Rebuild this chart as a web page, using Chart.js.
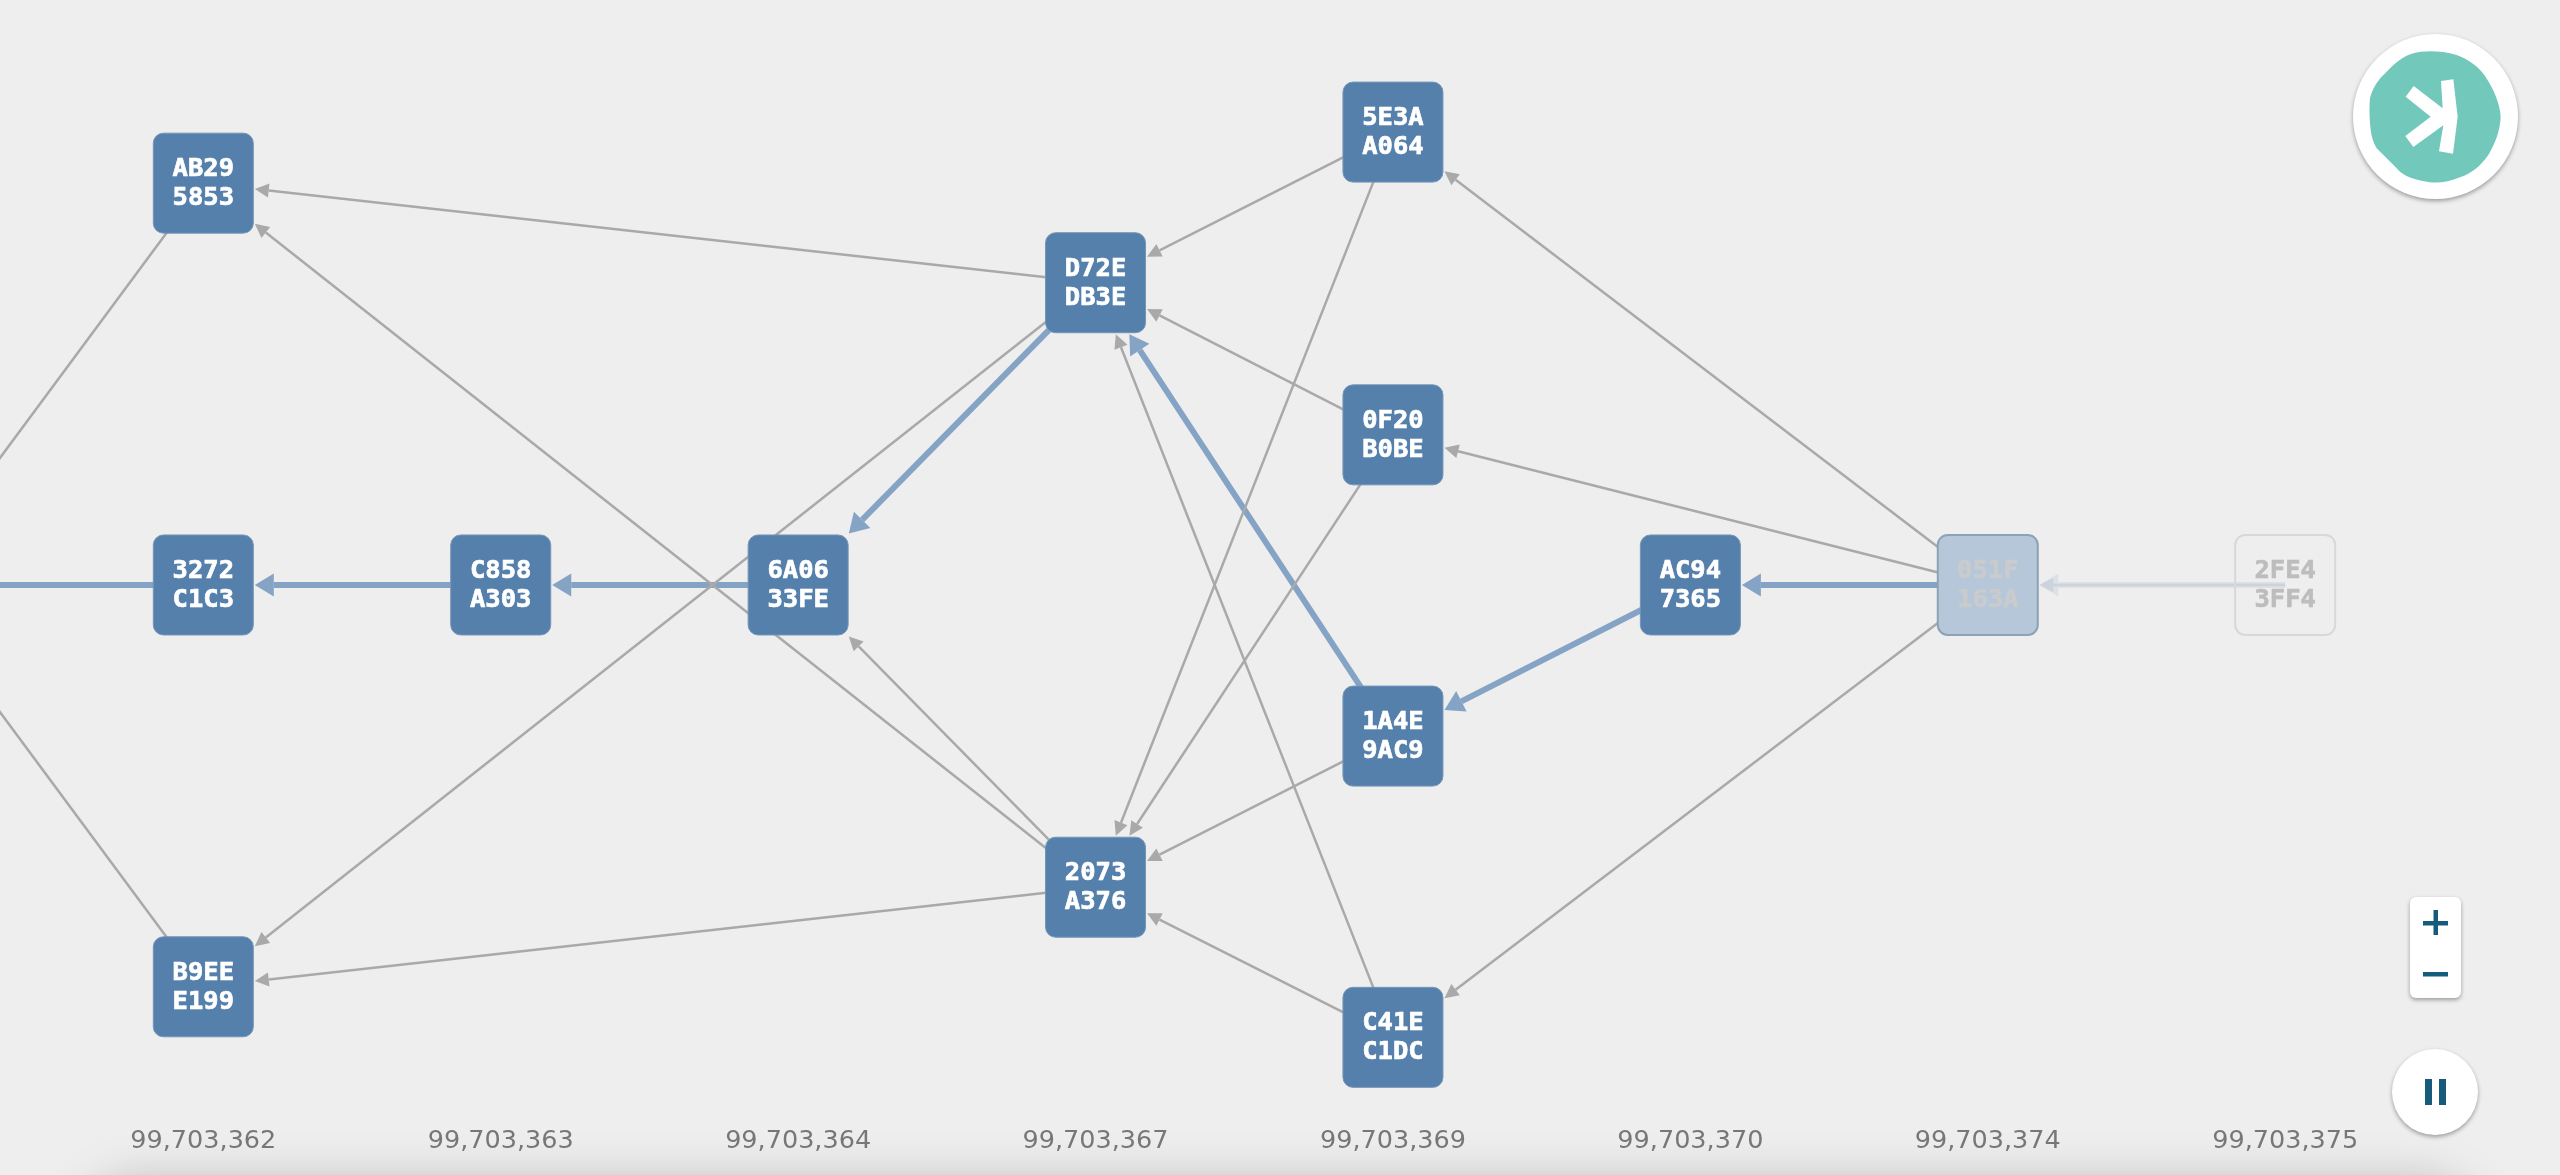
<!DOCTYPE html>
<html>
<head>
<meta charset="utf-8">
<title>DAG</title>
<script src="https://cdn.jsdelivr.net/npm/chart.js@4/dist/chart.umd.min.js"></script>
<style>
html,body{margin:0;padding:0;width:2560px;height:1175px;overflow:hidden;background:#eeeeee}
#panel{position:absolute;left:80px;right:80px;top:1185px;height:120px;border-radius:60px;box-shadow:0 0 50px rgba(0,0,0,.26)}
#graph{position:absolute;left:0;top:0}
.ctl{position:absolute;background:#fff;box-shadow:0 2px 4px rgba(0,0,0,.35)}
svg{position:absolute;left:0;top:0;width:100%;height:100%}
</style>
</head>
<body>
<div id="panel"></div>
<canvas id="graph" width="2560" height="1175"></canvas>

<div class="ctl" style="left:2353px;top:34px;width:165px;height:165px;border-radius:50%">
<svg viewBox="2353 34 165 165">
<g transform="translate(2200 0) scale(.33333)">
<path fill="#72c9bb" d="M510 295C518 262 535 238 560 215C585 190 610 168 640 160C665 152 720 150 770 165C810 180 835 200 855 228C880 265 900 310 902 350C900 395 885 430 865 465C840 500 815 520 780 532C750 545 720 550 690 547C655 540 625 535 600 515C575 490 550 465 530 445C515 420 512 395 510 370C508 340 508 315 510 295Z"/>
<path fill="#fff" d="M723 243L760 238L773 350L759 461L717 454L730 376L640 441L616 408L692 350L617 290L641 258L728 325Z"/>
</g>
</svg>
</div>

<div class="ctl" style="left:2410px;top:897px;width:51px;height:101px;border-radius:6px">
<svg viewBox="0 0 51 101">
<rect x="13" y="24" width="25" height="4.5" fill="#165a7c"/>
<rect x="23.5" y="13" width="4.5" height="25" fill="#165a7c"/>
<rect x="13" y="75" width="25" height="4.5" fill="#165a7c"/>
</svg>
</div>

<div class="ctl" style="left:2392px;top:1049px;width:86px;height:86px;border-radius:50%">
<svg viewBox="0 0 86 86">
<rect x="33" y="30" width="7" height="26" fill="#165a7c"/>
<rect x="47" y="30" width="7" height="26" fill="#165a7c"/>
</svg>
</div>

<script>
// block ids, the column they sit in and their height in the layout
const blockNames   = ['PREV','AB29 5853','3272 C1C3','B9EE E199','C858 A303','6A06 33FE','D72E DB3E','2073 A376','5E3A A064','0F20 B0BE','1A4E 9AC9','C41E C1DC','AC94 7365','051F 163A','2FE4 3FF4']
const blockColumns = [-1,0,0,0,1,2,3,3,4,4,4,4,5,6,7]
const blockHeights = [0,401.5,0,-401.5,0,0,302,-302,452.5,150,-151,-452,0,0,0]

const columnValues = [0,1,2,3,4,5,6,7]
const tickLabels   = ['99,703,362','99,703,363','99,703,364','99,703,367','99,703,369','99,703,370','99,703,374','99,703,375']

// parent links, arrow points at edgeTo
const edgeFrom = ['AB29','B9EE','D72E','2073','D72E','2073','2073','5E3A','0F20','C41E','5E3A','0F20','1A4E','C41E','051F','051F','051F','2FE4',
                  '3272','C858','6A06','D72E','1A4E','AC94','051F','2FE4']
const edgeTo   = ['PREV','PREV','AB29','AB29','B9EE','B9EE','6A06','D72E','D72E','D72E','2073','2073','2073','2073','5E3A','0F20','C41E','051F',
                  'PREV','3272','C858','6A06','D72E','1A4E','AC94','051F']
const edgeKind = ['thin','thin','thin','thin','thin','thin','thin','thin','thin','thin','thin','thin','thin','thin','thin','thin','thin','fadedThin',
                  'chain','chain','chain','chain','chain','chain','chain','fadedChain']

const edgeStyle = {
  thin:       {color:'#a9a9a9', width:2.5, len:14, half:7},
  chain:      {color:'#85a3c4', width:6,   len:19, half:11.5},
  fadedThin:  {color:'rgba(150,160,175,.22)', width:2.5, len:14, half:7},
  fadedChain: {color:'rgba(133,163,196,.16)', width:6,   len:19, half:11.5}
}

const HALF = 50
const indexOfBlock = id => blockNames.findIndex(n => n.startsWith(id))
const pointOf = i => ({x:blockColumns[i], y:blockHeights[i]})

const edgeSets = edgeFrom.map((id,i) => ({
  label:id+'-'+edgeTo[i],
  type:'scatter',
  showLine:true,
  data:[pointOf(indexOfBlock(id)), pointOf(indexOfBlock(edgeTo[i]))],
  borderColor:edgeStyle[edgeKind[i]].color,
  borderWidth:edgeStyle[edgeKind[i]].width,
  pointRadius:0
}))

// tip of the arrow stops just outside the target square
function tipOf(a,b,gap){
  const dx=a.x-b.x, dy=a.y-b.y, d=Math.hypot(dx,dy)
  const t=(HALF+gap)/Math.max(Math.abs(dx),Math.abs(dy))
  return {x:b.x+dx*t, y:b.y+dy*t, ux:dx/d, uy:dy/d}
}

const arrows = {
  id:'arrows',
  afterDatasetsUpdate(chart){
    // pull the line end back to the base of the arrow head
    edgeSets.forEach((ds,i)=>{
      const pts=chart.getDatasetMeta(i).data
      const st=edgeStyle[edgeKind[i]]
      const tip=tipOf(pts[0],pts[1],1.5)
      pts[1].x=tip.x+tip.ux*st.len
      pts[1].y=tip.y+tip.uy*st.len
      ds._tip=tip
    })
  },
  afterDatasetsDraw(chart){
    const ctx=chart.ctx
    edgeSets.forEach((ds,i)=>{
      const st=edgeStyle[edgeKind[i]], t=ds._tip
      const bx=t.x+t.ux*st.len, by=t.y+t.uy*st.len
      ctx.fillStyle=st.color
      ctx.beginPath()
      ctx.moveTo(t.x,t.y)
      ctx.lineTo(bx-t.uy*st.half,by+t.ux*st.half)
      ctx.lineTo(bx+t.uy*st.half,by-t.ux*st.half)
      ctx.closePath()
      ctx.fill()
    })
    const blocks=chart.getDatasetMeta(edgeSets.length).data
    blocks.forEach((p,i)=>{
      const name=blockNames[i]
      if(name=='PREV') return
      const x=p.x, y=p.y
      let fill='#5580ac', line='#7295b8', text='#ffffff', lw=1
      if(name.startsWith('051F')){fill='#b5c7d8'; line='#8ba2b7'; text='#c9cbcd'; lw=2}
      if(name.startsWith('2FE4')){fill='rgba(0,0,0,0)'; line='#d8d8d8'; text='#bdbdbd'; lw=2}
      ctx.beginPath()
      ctx.roundRect(x-HALF,y-HALF,HALF*2,HALF*2,10)
      ctx.fillStyle=fill
      ctx.fill()
      ctx.lineWidth=lw
      ctx.strokeStyle=line
      ctx.stroke()
      ctx.fillStyle=text
      ctx.strokeStyle=text
      ctx.lineWidth=0.7
      ctx.font='bold 25.5px "DejaVu Sans Mono"'
      ctx.textAlign='center'
      ctx.textBaseline='middle'
      const rows=name.split(' ')
      ctx.fillText(rows[0],x,y-13.5)
      ctx.strokeText(rows[0],x,y-13.5)
      ctx.fillText(rows[1],x,y+15.5)
      ctx.strokeText(rows[1],x,y+15.5)
    })
  }
}

new Chart(document.getElementById('graph'),{
  type:'scatter',
  data:{datasets:[...edgeSets,{label:'blocks',data:blockNames.map((n,i)=>pointOf(i)),pointRadius:0}]},
  plugins:[arrows],
  options:{
    responsive:false,
    animation:false,
    layout:{padding:{bottom:15.5}},
    plugins:{legend:{display:false},tooltip:{enabled:false}},
    scales:{
      x:{
        type:'linear',
        min:-0.6836,
        max:7.924,
        grid:{display:false},
        border:{display:false},
        afterBuildTicks:axis=>{axis.ticks=columnValues.map(v=>({value:v}))},
        ticks:{
          autoSkip:false,
          maxRotation:0,
          padding:2.5,
          color:'#777777',
          font:{family:'"DejaVu Sans"',size:25.5},
          callback:v=>tickLabels[v]
        }
      },
      y:{type:'linear',min:-530.5,max:584.5,display:false}
    }
  }
})
</script>
</body>
</html>
